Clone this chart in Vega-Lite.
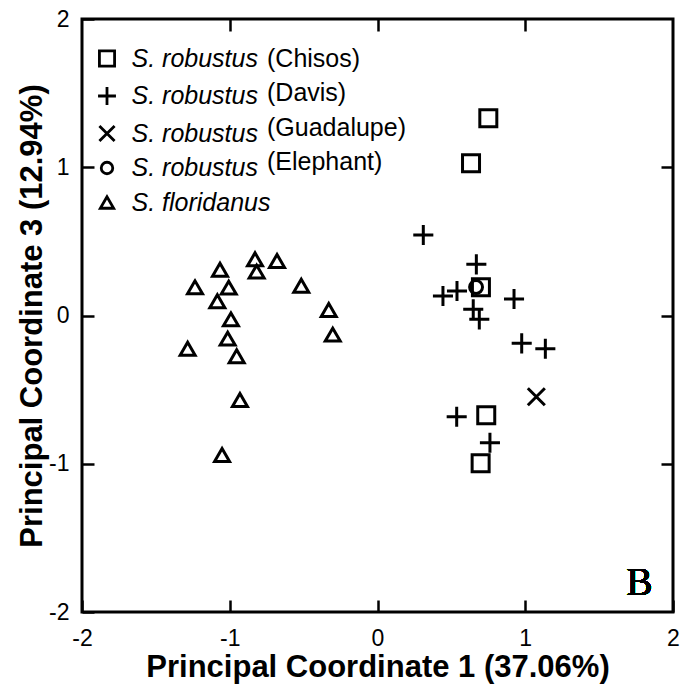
{
  "$schema": "https://vega.github.io/schema/vega-lite/v6.json",
  "width": 591,
  "height": 593,
  "autosize": {"type": "none"},
  "padding": {"left": 82, "top": 19, "right": 18, "bottom": 78},
  "background": "white",
  "config": {
    "view": {"stroke": "black", "strokeWidth": 3},
    "axis": {
      "domain": false,
      "grid": false,
      "tickColor": "black",
      "tickWidth": 2.5,
      "tickSize": -12,
      "labelFont": "Liberation Sans",
      "labelFontSize": 23,
      "labelColor": "black",
      "labelFlush": false,
      "labelOverlap": false,
      "labelBound": false,
      "titleFont": "Liberation Sans",
      "titleFontSize": 31,
      "titleFontWeight": "bold",
      "titleColor": "black"
    },
    "legend": {
      "labelFont": "Liberation Sans",
      "labelFontSize": 25,
      "labelColor": "black",
      "padding": 0,
      "rowPadding": 8.5,
      "labelLimit": 400
    }
  },
  "data": {
    "values": [
      {"pc1": 0.75, "pc3": 1.33, "group": "S. robustus (Chisos)", "population": "Chisos"},
      {"pc1": 0.633, "pc3": 1.027, "group": "S. robustus (Chisos)", "population": "Chisos"},
      {"pc1": 0.70, "pc3": 0.19, "group": "S. robustus (Chisos)", "population": "Chisos"},
      {"pc1": 0.736, "pc3": -0.673, "group": "S. robustus (Chisos)", "population": "Chisos"},
      {"pc1": 0.698, "pc3": -0.997, "group": "S. robustus (Chisos)", "population": "Chisos"},
      {"pc1": 0.31, "pc3": 0.543, "group": "S. robustus (Davis)", "population": "Davis"},
      {"pc1": 0.669, "pc3": 0.345, "group": "S. robustus (Davis)", "population": "Davis"},
      {"pc1": 0.443, "pc3": 0.132, "group": "S. robustus (Davis)", "population": "Davis"},
      {"pc1": 0.538, "pc3": 0.165, "group": "S. robustus (Davis)", "population": "Davis"},
      {"pc1": 0.648, "pc3": 0.042, "group": "S. robustus (Davis)", "population": "Davis"},
      {"pc1": 0.689, "pc3": -0.026, "group": "S. robustus (Davis)", "population": "Davis"},
      {"pc1": 0.924, "pc3": 0.111, "group": "S. robustus (Davis)", "population": "Davis"},
      {"pc1": 0.976, "pc3": -0.188, "group": "S. robustus (Davis)", "population": "Davis"},
      {"pc1": 1.136, "pc3": -0.224, "group": "S. robustus (Davis)", "population": "Davis"},
      {"pc1": 0.536, "pc3": -0.683, "group": "S. robustus (Davis)", "population": "Davis"},
      {"pc1": 0.761, "pc3": -0.858, "group": "S. robustus (Davis)", "population": "Davis"},
      {"pc1": 1.075, "pc3": -0.548, "group": "S. robustus (Guadalupe)", "population": "Guadalupe"},
      {"pc1": 0.667, "pc3": 0.192, "group": "S. robustus (Elephant)", "population": "Elephant"},
      {"pc1": -0.829, "pc3": 0.379, "group": "S. floridanus", "population": "all"},
      {"pc1": -0.818, "pc3": 0.296, "group": "S. floridanus", "population": "all"},
      {"pc1": -0.680, "pc3": 0.368, "group": "S. floridanus", "population": "all"},
      {"pc1": -1.066, "pc3": 0.309, "group": "S. floridanus", "population": "all"},
      {"pc1": -1.235, "pc3": 0.190, "group": "S. floridanus", "population": "all"},
      {"pc1": -1.007, "pc3": 0.188, "group": "S. floridanus", "population": "all"},
      {"pc1": -1.084, "pc3": 0.096, "group": "S. floridanus", "population": "all"},
      {"pc1": -0.516, "pc3": 0.201, "group": "S. floridanus", "population": "all"},
      {"pc1": -0.330, "pc3": 0.037, "group": "S. floridanus", "population": "all"},
      {"pc1": -0.303, "pc3": -0.129, "group": "S. floridanus", "population": "all"},
      {"pc1": -0.992, "pc3": -0.026, "group": "S. floridanus", "population": "all"},
      {"pc1": -1.014, "pc3": -0.156, "group": "S. floridanus", "population": "all"},
      {"pc1": -1.285, "pc3": -0.224, "group": "S. floridanus", "population": "all"},
      {"pc1": -0.953, "pc3": -0.275, "group": "S. floridanus", "population": "all"},
      {"pc1": -0.931, "pc3": -0.570, "group": "S. floridanus", "population": "all"},
      {"pc1": -1.052, "pc3": -0.941, "group": "S. floridanus", "population": "all"}
    ]
  },
  "layer": [
    {
      "mark": {"type": "point", "filled": false, "color": "black", "strokeWidth": 3, "size": 289},
      "encoding": {
        "x": {
          "field": "pc1", "type": "quantitative",
          "scale": {"domain": [-2, 2], "nice": false, "zero": false},
          "axis": {
            "orient": "bottom", "values": [-2, -1, 0, 1, 2],
            "title": "Principal Coordinate 1 (37.06%)",
            "labelExpr": "datum.value < 0 ? '-' + abs(datum.value) : '' + datum.value",
            "labelFont": "Liberation Sans", "labelFontSize": 23, "labelColor": "#000000", "labelOpacity": 1, "labelFontWeight": "normal",
            "labelPadding": 27,
            "titleX": 295.5, "titleY": 64, "titleBaseline": "alphabetic", "titleAlign": "center", "titleAnchor": null
          }
        },
        "y": {
          "field": "pc3", "type": "quantitative",
          "scale": {"domain": [-2, 2], "nice": false, "zero": false},
          "axis": {
            "orient": "left", "values": [-2, -1, 0, 1, 2],
            "title": "Principal Coordinate 3 (12.94%)",
            "labelExpr": "datum.value < 0 ? '-' + abs(datum.value) : '' + datum.value",
            "labelFont": "Liberation Sans", "labelFontSize": 23, "labelColor": "#000000", "labelOpacity": 1, "labelFontWeight": "normal",
            "labelPadding": 25,
            "titleX": -50, "titleY": 296.5, "titleBaseline": "middle", "titleAlign": "center", "titleAngle": -90, "titleAnchor": null
          }
        },
        "shape": {
          "field": "group", "type": "nominal",
          "scale": {
            "domain": ["S. robustus (Chisos)", "S. robustus (Davis)", "S. robustus (Guadalupe)", "S. robustus (Elephant)", "S. floridanus"],
            "range": ["square", "M-1.18,0H1.18M0,-1.18V1.18", "M-1,-1L1,1M-1,1L1,-1", "M0.76,0A0.76,0.76,0,1,1,-0.76,0A0.76,0.76,0,1,1,0.76,0Z", "M0,-0.76L-0.88,0.76L0.88,0.76Z"]
          },
          "legend": {
            "orient": "none", "legendX": 12.5, "legendY": 27, "title": null,
            "labelExpr": "split(datum.label, ' (')[0]",
            "labelFontStyle": "italic",
            "labelOffset": 12,
            "symbolSize": 230,
            "symbolStrokeWidth": 2.8,
            "symbolStrokeColor": "black",
            "symbolOpacity": 1
          }
        },
        "opacity": {
          "field": "population", "type": "ordinal",
          "scale": {"domain": ["Chisos", "Davis", "Guadalupe", "Elephant", "all"], "range": [1, 1]},
          "legend": {
            "orient": "none", "legendX": 160, "legendY": 27, "title": null,
            "labelExpr": "datum.label == 'all' ? '' : '(' + datum.label + ')'",
            "labelOffset": 0,
            "symbolSize": 0,
            "symbolStrokeWidth": 0,
            "encode": {"symbols": {"update": {"opacity": {"value": 0}}}}
          }
        }
      }
    },
    {
      "mark": {"type": "text", "text": "B", "font": "Liberation Serif", "fontSize": 39, "fontWeight": "normal", "align": "center", "baseline": "alphabetic", "color": "black"},
      "encoding": {
        "x": {"datum": 1.773, "type": "quantitative", "axis": {"orient": "top", "values": [-1, 0, 1], "labels": false, "title": null}},
        "y": {"datum": -1.885, "type": "quantitative", "axis": {"orient": "right", "values": [-1, 0, 1], "labels": false, "title": null}}
      }
    }
  ],
  "resolve": {"axis": {"x": "independent", "y": "independent"}}
}
